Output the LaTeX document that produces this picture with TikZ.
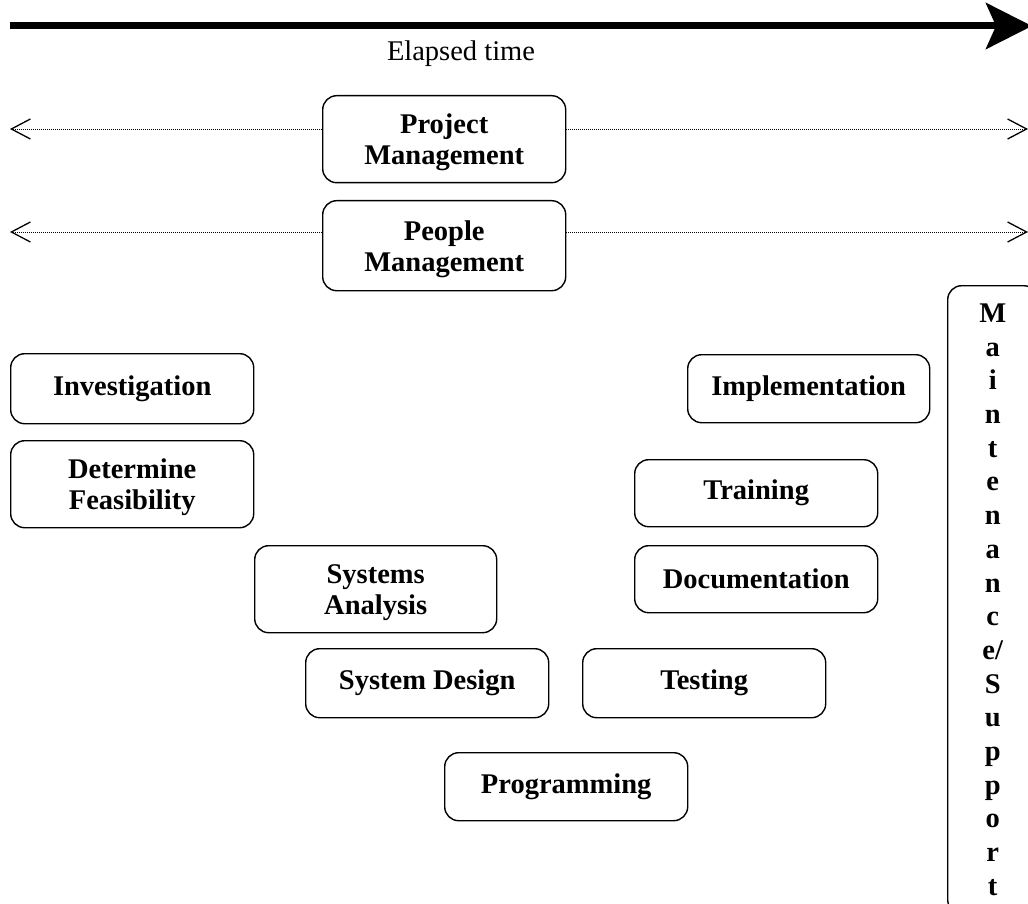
\documentclass[tikz,border=0pt]{standalone}
\usepackage{fontspec}
\setmainfont{Liberation Serif}
\usetikzlibrary{arrows.meta}
\tikzset{%
  mybox/.style={draw=black, line width=1.4pt, rounded corners=14pt, align=center,
    font=\fontsize{28.5}{31}\selectfont\bfseries, anchor=north west, inner sep=0pt},
  twoline/.style={text depth=-4pt},
  myspan/.style={line width=0.9pt, dash pattern=on 1pt off 1pt,
    -{Straight Barb[length=19pt, width=20pt, line width=1.3pt]}}
}

\begin{document}
\begin{tikzpicture}[x=1pt, y=-1pt]
  \useasboundingbox (0,0) rectangle (1028,904);

% time line
\coordinate (T0) at (10,26);
\coordinate (T1) at (1032,26);
\draw [line width=7pt, -{Stealth[length=46pt, width=46pt, inset=10pt]}] (T0) -- (T1);
\node [font=\fontsize{28.5}{31}\selectfont] (elapsed) at (461,54) {Elapsed time};

% activity boxes
\foreach \n / \x / \y / \w / \h / \st / \txt in {
    proj/322/95/243/87/twoline/{Project\\Management},
    people/322/200/243/90/twoline/{People\\Management},
    invest/10/353/243/70//{Investigation},
    feas/10/440/243/87/twoline/{Determine\\Feasibility},
    analysis/254/545/242/87/twoline/{Systems\\Analysis},
    design/305/648/243/69//{System Design},
    prog/444/752/243/68//{Programming},
    testing/582/648/243/69//{Testing},
    docs/634/545/243/67//{Documentation},
    training/634/459/243/67//{Training},
    impl/687/354/242/68//{Implementation}}{
  \node [mybox, \st, minimum width=\w, minimum height=\h] (\n) at (\x,\y) {\txt};
}

% maintenance runs down the right edge
\node [mybox, font=\fontsize{28.5}{33.7}\selectfont\bfseries, minimum width=90, minimum height=628]
  (maint) at (947,285)
  {M\\a\\i\\n\\t\\e\\n\\a\\n\\c\\e/\\S\\u\\p\\p\\o\\r\\t};

% management spans
\foreach \n / \y in {proj/129, people/232}{
  \coordinate (\n L) at (10,\y);
  \coordinate (\n R) at (1028,\y);
  \draw [myspan] (\n L -| \n.west) -- (\n L);
  \draw [myspan] (\n R -| \n.east) -- (\n R);
}

\end{tikzpicture}
\end{document}
